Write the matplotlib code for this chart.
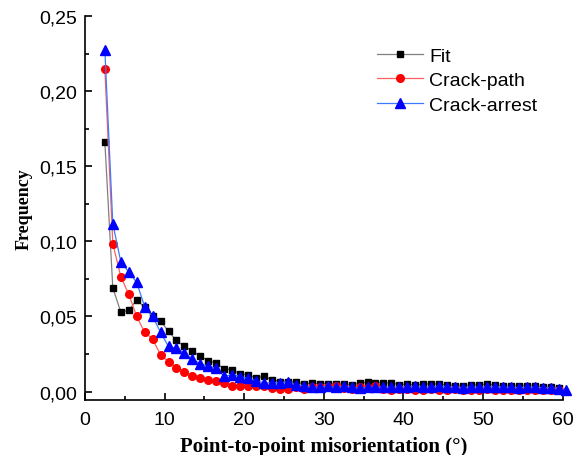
import numpy as np
import matplotlib
matplotlib.use("Agg")
import matplotlib.pyplot as plt
from matplotlib.ticker import MultipleLocator, FuncFormatter

# misorientation bin centres (deg)
angle = np.arange(2.5, 61.0, 1.0)

fit = [0.166, 0.069, 0.053, 0.054, 0.061, 0.056, 0.050, 0.047, 0.040, 0.034,
       0.030, 0.027, 0.0235, 0.0206, 0.0188, 0.015, 0.0146, 0.0118, 0.011, 0.0091,
       0.0102, 0.0078, 0.0066, 0.0066, 0.0062, 0.0051, 0.0055, 0.0053, 0.0053, 0.0051,
       0.0051, 0.0044, 0.0055, 0.0062, 0.0058, 0.0058, 0.0058, 0.0046, 0.0050, 0.0042,
       0.0050, 0.0050, 0.0050, 0.0042, 0.0040, 0.0036, 0.0044, 0.0044, 0.0050, 0.0042,
       0.0036, 0.0036, 0.0040, 0.0040, 0.0036, 0.0030, 0.0030, 0.0025]

crack_path = [0.2148, 0.0985, 0.0765, 0.0648, 0.050, 0.0394, 0.035, 0.0243, 0.020, 0.016,
              0.0133, 0.0106, 0.0093, 0.008, 0.0069, 0.0058, 0.0035, 0.004, 0.0035, 0.004,
              0.0035, 0.0024, 0.0018, 0.0018, 0.0029, 0.0018, 0.0029, 0.0033, 0.0029, 0.004,
              0.0024, 0.0018, 0.0029, 0.0022, 0.0035, 0.0018, 0.0012, 0.0015, 0.0020, 0.0010,
              0.0012, 0.0018, 0.0008, 0.0012, 0.0015, 0.0010, 0.0008, 0.0012, 0.0015, 0.0010,
              0.0008, 0.0012, 0.0010, 0.0008, 0.0012, 0.0010, 0.0008, 0.0012]

crack_arrest = [0.2274, 0.1117, 0.0865, 0.0796, 0.0726, 0.0566, 0.050, 0.0394, 0.030, 0.0288,
                0.0257, 0.0217, 0.0184, 0.0169, 0.0155, 0.0102, 0.0113, 0.010, 0.0089, 0.0073,
                0.0058, 0.0058, 0.0058, 0.0066, 0.0044, 0.004, 0.0029, 0.0029, 0.0035, 0.0029,
                0.0035, 0.0029, 0.0022, 0.0029, 0.0029, 0.0030, 0.0028, 0.0032, 0.0030, 0.0035,
                0.0028, 0.0030, 0.0035, 0.0033, 0.0028, 0.0025, 0.0030, 0.0028, 0.0030, 0.0032,
                0.0030, 0.0028, 0.0025, 0.0028, 0.0030, 0.0025, 0.0025, 0.0020, 0.0010]

fig = plt.figure(figsize=(5.74, 4.56), dpi=100)
ax = fig.add_axes([0.148, 0.1217, 0.832, 0.841])

ax.plot(angle[:len(fit)], fit, color="#808080", lw=0.9, marker="s", ms=5,
        mfc="black", mec="black", label="Fit", clip_on=False)
ax.plot(angle[:len(crack_path)], crack_path, color="#ff6060", lw=0.9, marker="o", ms=5.5,
        mfc="red", mec="red", label="Crack-path", clip_on=False)
ax.plot(angle[:len(crack_arrest)], crack_arrest, color="#3a7bff", lw=0.9, marker="^", ms=6.5,
        mfc="blue", mec="blue", label="Crack-arrest", clip_on=False)

ax.set_xlim(0, 60)
ax.set_ylim(-0.0053, 0.25)
ax.spines["top"].set_visible(False)
ax.spines["right"].set_visible(False)
for s in ("left", "bottom"):
    ax.spines[s].set_linewidth(1.2)

ax.xaxis.set_major_locator(MultipleLocator(10))
ax.xaxis.set_minor_locator(MultipleLocator(5))
ax.yaxis.set_major_locator(MultipleLocator(0.05))
ax.yaxis.set_minor_locator(MultipleLocator(0.025))
ax.yaxis.set_major_formatter(FuncFormatter(lambda v, p: f"{v:.2f}".replace(".", ",")))
ax.tick_params(which="major", direction="in", length=5, width=1.2,
               labelsize=14, labelfontfamily="Liberation Sans")
ax.tick_params(axis="x", which="major", pad=8.5)
ax.tick_params(axis="y", which="major", pad=5.5)
ax.tick_params(which="minor", direction="in", length=3, width=1.2)

ax.set_xlabel("Point-to-point misorientation (°)",
              fontdict=dict(family="Liberation Serif", weight="bold", size=15), labelpad=5.5)
ax.set_ylabel("Frequency",
              fontdict=dict(family="Liberation Serif", weight="bold", size=13), labelpad=5)

ax.legend(loc="upper right", bbox_to_anchor=(0.984, 0.965), frameon=False,
          prop={"family": "Liberation Sans", "size": 14},
          handlelength=2.4, labelspacing=0.36, handletextpad=0.3)

fig.savefig("out.png", dpi=100)
